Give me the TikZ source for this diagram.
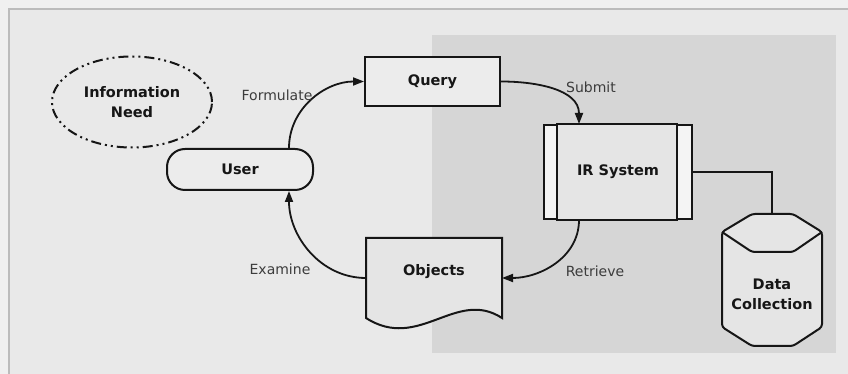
\documentclass[tikz,border=0pt]{standalone}
\usepackage{fontspec}
\setmainfont{DejaVu Sans}
\usepackage{tikz}
\usetikzlibrary{arrows.meta,shapes.geometric}
\definecolor{pagebg}{RGB}{240,240,240}
\definecolor{panel}{RGB}{233,233,233}
\definecolor{sysarea}{RGB}{214,214,214}
\definecolor{framegray}{RGB}{188,188,188}
\definecolor{nodefill}{RGB}{236,236,236}
\definecolor{sysfill}{RGB}{229,229,229}
\definecolor{edge}{RGB}{22,22,22}
\definecolor{verbgray}{RGB}{60,60,60}

\begin{document}
\begin{tikzpicture}[x=1pt, y=1pt,
      box/.style={draw=edge, line width=2pt, fill=nodefill, inner sep=0pt,
        align=center, font=\fontsize{14.5}{20}\selectfont\bfseries, text=edge},
      flow/.style={-{Triangle[length=11pt,width=8pt]}, line width=1.8pt, draw=edge},
      verb/.style={font=\fontsize{14}{20}\selectfont, text=verbgray},
    ]
    \useasboundingbox (0,0) rectangle (848,374);
    % Background and frame
    \fill[pagebg] (0,0) rectangle (848,374);
    \fill[panel] (9,0) rectangle (848,365);
    \draw[framegray, line width=1.5pt] (9,0) -- (9,365) -- (848,365);
    % System side
    \fill[sysarea] (432,21) rectangle (836,339);

    % User side
    \node[box, ellipse, fill=none, minimum width=160pt, minimum height=91pt,
      dash pattern=on 10pt off 4pt on 2pt off 4pt on 2pt off 4pt]
      (need) at (132,272) {Information\\Need};
    \node[box, rounded corners=18pt, minimum width=146pt, minimum height=41pt]
      (user) at (240,204.5) {User};
    \node[box, minimum width=135pt, minimum height=49pt]
      (query) at (432.5,292.5) {Query};

    % IR system with side bands
    \node[box, fill=nodefill!60!white, minimum width=148pt, minimum height=94pt]
      (ir) at (618,202) {};
    \draw[edge, line width=2pt, fill=sysfill]
      ([xshift=14pt]ir.north west) rectangle ([xshift=-16pt]ir.south east);
    \node[box, draw=none, fill=none] (irtext) at (ir.center) {IR System};

    % Objects (document)
    \node[box, draw=none, fill=none, minimum width=134pt, minimum height=78pt]
      (obj) at (434,96) {};
    \draw[edge, line width=2pt, fill=sysfill]
      (obj.south west) -- (obj.north west) -- (obj.north east) -- (obj.south east)
      .. controls ([shift={(-46,30)}]obj.south east)
         and ([shift={(53,-34)}]obj.south west) .. (obj.south west) -- cycle;
    \node[box, draw=none, fill=none] (objtext) at ([yshift=6pt]obj.center) {Objects};

    % Data collection (cylinder)
    \node[box, draw=none, fill=none, minimum width=98pt, minimum height=130pt]
      (data) at (772,94) {};
    \draw[edge, line width=2pt, fill=sysfill, rounded corners=3pt]
      ([yshift=-18pt]data.north west) -- ([xshift=30pt]data.north west)
      -- ([xshift=-29pt]data.north east) -- ([yshift=-18pt]data.north east)
      -- ([yshift=19pt]data.south east) -- ([xshift=-29pt]data.south east)
      -- ([xshift=30pt]data.south west) -- ([yshift=19pt]data.south west) -- cycle;
    \draw[edge, line width=2pt, rounded corners=3pt]
      ([yshift=-18pt]data.north west) -- ([shift={(30,-38)}]data.north west)
      -- ([shift={(-29,-38)}]data.north east) -- ([yshift=-18pt]data.north east);
    \node[box, draw=none, fill=none] (datatext) at ([yshift=-14pt]data.center)
      {Data\\Collection};

    % Cycle of connectors
    \draw[flow] ([xshift=49pt]user.north) to[out=90,in=180] (query.west);
    \draw[flow] (query.east) to[out=0,in=90] ([xshift=-39pt]ir.north);
    \draw[flow] ([xshift=-39pt]ir.south) to[out=-90,in=0] (obj.east);
    \draw[flow] (obj.west) to[out=180,in=-90] ([xshift=49pt]user.south);
    \draw[edge, line width=1.8pt] (ir.east) -| (data.north);

    % Verbs
    \node[verb] (formulate) at (277,279) {Formulate};
    \node[verb] (submit) at (591,287) {Submit};
    \node[verb] (retrieve) at (595,103) {Retrieve};
    \node[verb] (examine) at (280,105) {Examine};
  \end{tikzpicture}
\end{document}
